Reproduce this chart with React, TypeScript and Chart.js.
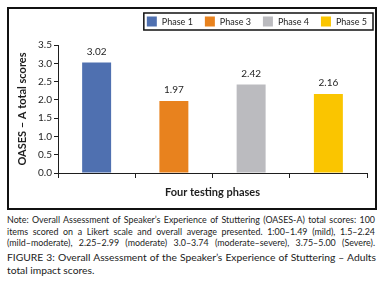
import React, { useEffect, useRef } from 'react';
import { Chart, registerables } from 'chart.js';

Chart.register(...registerables);

const phases = ['Phase 1', 'Phase 3', 'Phase 4', 'Phase 5'];
const scores = [3.02, 1.97, 2.42, 2.16];
const yMin = 0;
const yMax = 3.5;
const yStep = 0.5;
const barColors = ['#4F70B0', '#E8821E', '#BBBBBF', '#FAC500'];
const xTitle = 'Four testing phases';
const yTitle = 'OASES – A total scores';
const noteLines = [
  'Note: Overall Assessment of Speaker’s Experience of Stuttering (OASES-A) total scores: 100',
  'items scored on a Likert scale and overall average presented. 1:00–1.49 (mild), 1.5–2.24',
  '(mild–moderate), 2.25–2.99 (moderate) 3.0–3.74 (moderate–severe), 3.75–5.00 (Severe).',
];
const figureLines = [
  'FIGURE 3: Overall Assessment of the Speaker’s Experience of Stuttering – Adults',
  'total impact scores.',
];

const FONT = 'Lato, "Open Sans", sans-serif';
const INK = '#1e1e1e';

const boxLegend = {
  id: 'boxLegend',
  afterDraw(chart: any) {
    const ctx = chart.ctx as CanvasRenderingContext2D;
    ctx.save();
    ctx.font = `9px ${FONT}`;
    const box = 10;
    const gap = 5;
    const spacing = 12;
    const items = chart.data.datasets.map((ds: any) => ({
      text: ds.label as string,
      color: ds.backgroundColor as string,
      w: box + gap + ctx.measureText(ds.label).width,
    }));
    const total = items.reduce((s: number, it: any) => s + it.w, 0) + spacing * (items.length - 1);
    const right = chart.width - 2;
    const left = right - total - 9;
    const top = 5;
    const bottom = 22;
    const cy = (top + bottom) / 2;
    ctx.lineWidth = 1.5;
    ctx.strokeStyle = '#111';
    ctx.strokeRect(left, top, right - left, bottom - top);
    let x = left + 3;
    ctx.textBaseline = 'middle';
    ctx.textAlign = 'left';
    items.forEach((it: any) => {
      ctx.fillStyle = it.color;
      ctx.fillRect(x, cy - box / 2, box, box);
      ctx.fillStyle = INK;
      ctx.fillText(it.text, x + box + gap, cy + 0.5);
      x += it.w + spacing;
    });
    ctx.restore();
  },
};

const valueLabels = {
  id: 'valueLabels',
  afterDatasetsDraw(chart: any) {
    const ctx = chart.ctx as CanvasRenderingContext2D;
    ctx.save();
    ctx.font = `10px ${FONT}`;
    ctx.fillStyle = INK;
    ctx.textAlign = 'center';
    ctx.textBaseline = 'middle';
    chart.data.datasets.forEach((ds: any, di: number) => {
      const meta = chart.getDatasetMeta(di);
      meta.data.forEach((el: any, i: number) => {
        const v = ds.data[i];
        if (v == null) return;
        ctx.fillText(Number(v).toFixed(2), el.x, el.y - 11);
      });
    });
    ctx.restore();
  },
};

export default function App() {
  const ref = useRef<HTMLCanvasElement | null>(null);

  useEffect(() => {
    if (!ref.current) return;
    const datasets = phases.map((p, i) => ({
      label: p,
      data: phases.map((_, j) => (j === i ? scores[i] : null)),
      backgroundColor: barColors[i],
      borderWidth: 0,
      grouped: false,
      barPercentage: 0.375,
      categoryPercentage: 1,
    }));
    const chart = new Chart(ref.current, {
      type: 'bar',
      data: { labels: phases, datasets: datasets as any },
      options: {
        responsive: false,
        animation: false,
        layout: { padding: { top: 37, right: 8, left: 0, bottom: 0 } },
        plugins: {
          legend: { display: false },
          tooltip: { enabled: false },
        },
        scales: {
          x: {
            type: 'category',
            ticks: { display: false },
            grid: { offset: true, drawOnChartArea: false, tickLength: 5, color: INK, lineWidth: 1 },
            border: { display: true, color: INK, width: 1 },
            title: {
              display: true,
              text: xTitle,
              color: INK,
              font: { family: FONT, size: 11, weight: 'bold' },
              padding: { top: 7, bottom: 8 },
            },
            afterFit: (s: any) => {
              s.height = 34;
            },
          },
          y: {
            min: yMin,
            max: yMax,
            ticks: {
              stepSize: yStep,
              padding: 2,
              color: INK,
              font: { family: FONT, size: 10 },
              callback: (v: any) => Number(v).toFixed(1),
            },
            grid: { drawOnChartArea: false, tickLength: 4, color: INK, lineWidth: 1 },
            border: { display: true, color: INK, width: 1 },
            title: {
              display: true,
              text: yTitle,
              color: INK,
              font: { family: FONT, size: 11, weight: 'bold' },
              padding: { top: 8, bottom: 0 },
            },
            afterFit: (s: any) => {
              s.width = 50;
            },
          },
        },
      },
      plugins: [boxLegend, valueLabels],
    });
    return () => chart.destroy();
  }, []);

  return (
    <div style={{ position: 'absolute', left: 0, top: 0, width: 386, height: 281, background: '#fff', overflow: 'hidden' }}>
      <div
        style={{
          position: 'absolute',
          left: 7,
          top: 7,
          width: 370,
          height: 203,
          border: `2px solid ${'#111'}`,
          boxSizing: 'border-box',
        }}
      />
      <canvas ref={ref} width={367} height={199} style={{ position: 'absolute', left: 8, top: 8 }} />
      <div style={{ position: 'absolute', left: 7, top: 214, width: 368, fontFamily: FONT, fontSize: 8.9, lineHeight: '11.5px', color: '#222' }}>
        {noteLines.map((l, i) => (
          <div
            key={i}
            style={{ whiteSpace: 'nowrap', textAlign: 'justify', textAlignLast: 'justify' } as any}
          >
            {l}
          </div>
        ))}
      </div>
      <div style={{ position: 'absolute', left: 7, top: 251, width: 369, fontFamily: FONT, fontSize: 10.3, lineHeight: '12.7px', color: '#222' }}>
        {figureLines.map((l, i) => (
          <div
            key={i}
            style={{ whiteSpace: 'nowrap', textAlign: 'justify', textAlignLast: i < figureLines.length - 1 ? 'justify' : 'left' } as any}
          >
            {l}
          </div>
        ))}
      </div>
    </div>
  );
}
